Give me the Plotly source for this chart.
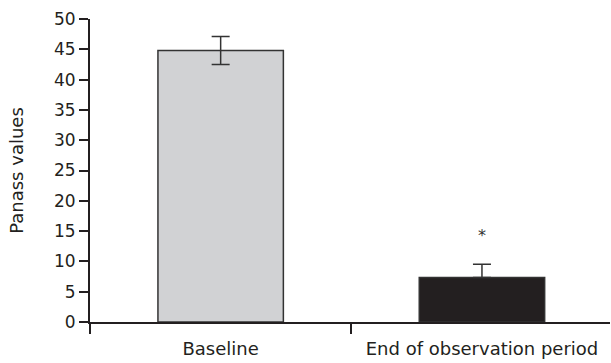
import plotly.graph_objects as go

categories = ["Baseline", "End of observation period"]
values = [44.8, 7.35]
errors_up = [2.3, 2.2]
errors_down = [2.3, 0]
bar_colors = ["#d1d2d4", "#231f20"]
y_ticks = list(range(0, 51, 5))
marker_label = "*"
marker_y = 14.3

fig = go.Figure()
fig.add_trace(go.Bar(
    x=categories, y=values,
    width=0.48,
    marker=dict(color=bar_colors, line=dict(color="#333333", width=1.5)),
    error_y=dict(type="data", symmetric=False, array=errors_up, arrayminus=errors_down,
                 visible=True, color="#333333", thickness=1.5, width=9),
))
fig.add_annotation(x=categories[1], y=marker_y, text=marker_label, showarrow=False,
                   font=dict(size=16, color="#333333", family="DejaVu Sans"))

font_family = "DejaVu Sans, sans-serif"
fig.update_layout(
    width=611, height=363,
    margin=dict(l=90, r=1, t=19, b=41),
    plot_bgcolor="white", paper_bgcolor="white",
    showlegend=False,
    font=dict(family=font_family, size=17, color="#231f20"),
    xaxis=dict(
        range=[-0.5, 1.49], automargin=False,
        showline=True, linecolor="#231f20", linewidth=2,
        ticks="outside", tickson="boundaries", ticklen=10, tickwidth=1.5, tickcolor="#231f20",
        ticklabelstandoff=9,
        showgrid=False, zeroline=False,
        tickfont=dict(size=18),
    ),
    yaxis=dict(
        range=[0, 50], tickvals=y_ticks, automargin=False,
        showline=True, linecolor="#231f20", linewidth=2,
        ticks="outside", ticklen=9, tickwidth=1.5, tickcolor="#231f20",
        showgrid=False, zeroline=False,
        title=dict(text="Panass values", font=dict(size=18), standoff=26),
        tickfont=dict(size=17),
    ),
)
fig.write_html("out.html", config={"displayModeBar": False},
               post_script="document.body.style.margin='0';")
